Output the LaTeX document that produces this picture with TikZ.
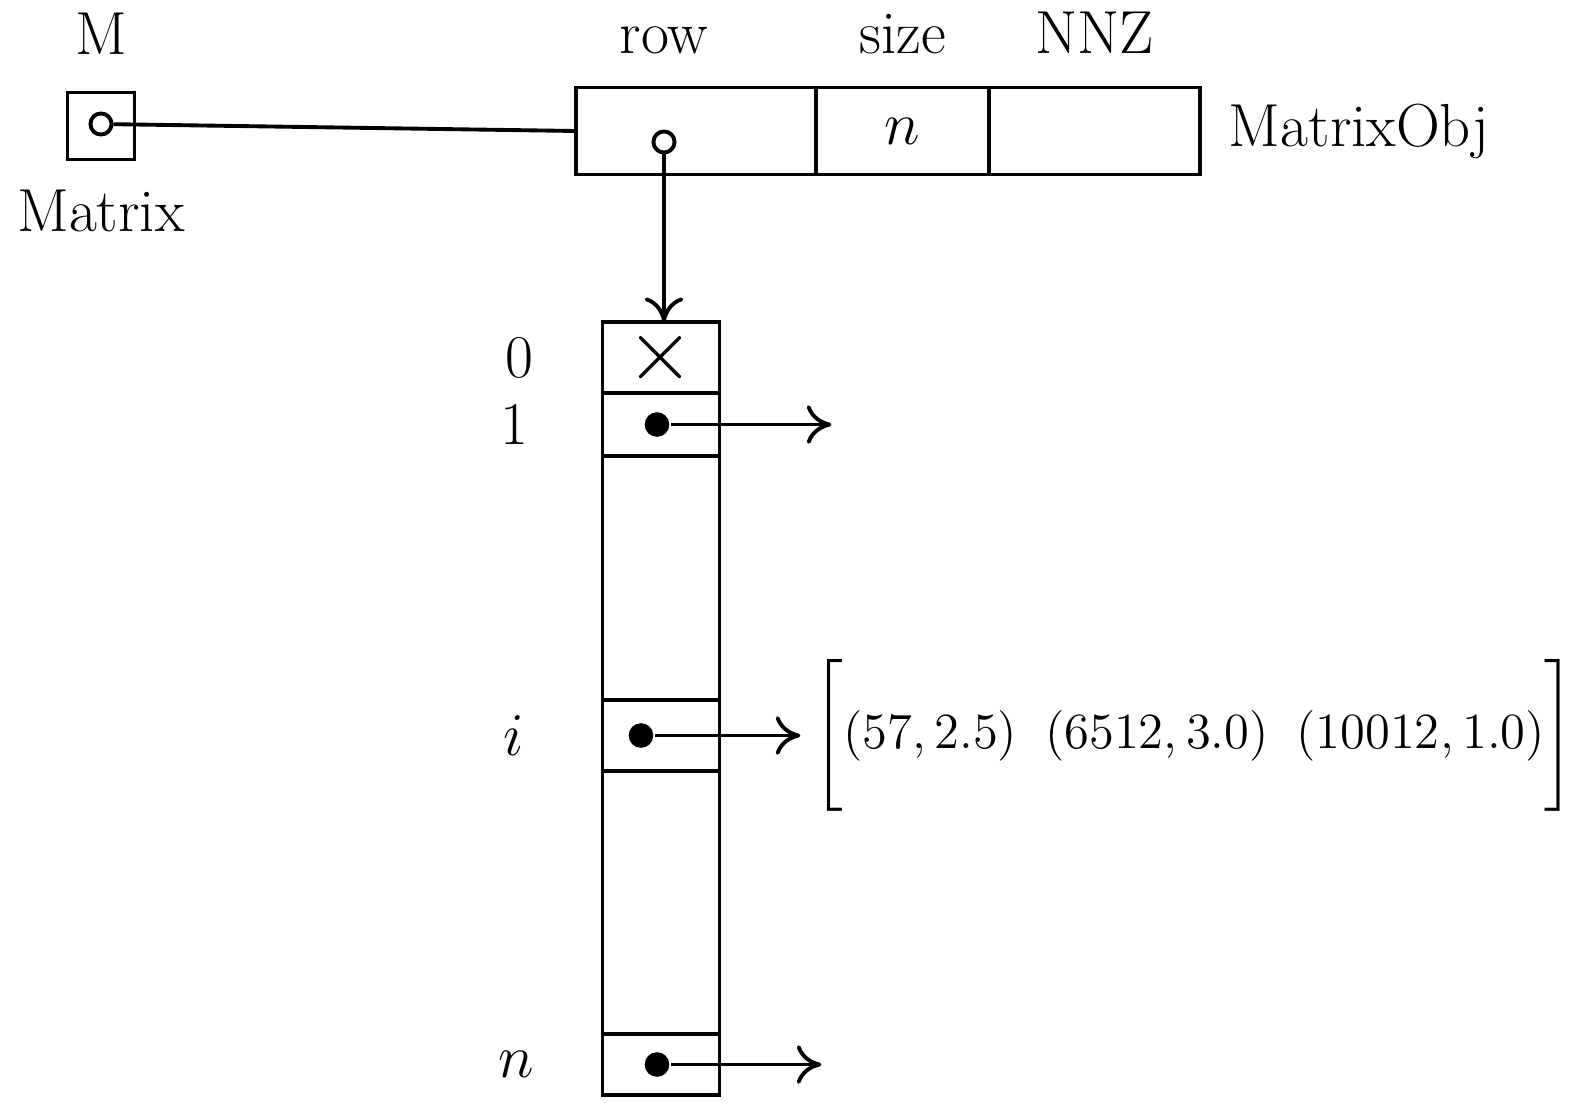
\documentclass[tikz,border=0pt]{standalone}
\usepackage{amsmath}
\usetikzlibrary{arrows.meta,positioning}

\begin{document}
\begin{tikzpicture}[x=0.01cm,y=-0.01cm,
    line width=1.1pt,
    cell/.style={draw,minimum height=0.87cm,inner sep=0pt,outer sep=0pt,font=\LARGE},
    slot/.style={draw,minimum width=1.17cm,inner sep=0pt,outer sep=0pt,font=\LARGE},
    lbl/.style={font=\LARGE},
    ptr/.style={circle,draw,inner sep=0pt,minimum size=6pt},
    ref/.style={circle,fill,inner sep=0pt,minimum size=7pt},
    link/.style={-{To[length=7pt,width=11pt]},line width=1.1pt}]
  \useasboundingbox (0,0) rectangle (1590,1103);
  \node[draw,minimum size=0.67cm] (mbox) at (101,126) {};
  \node[ptr] (mdot) at (101,124) {};
  \node[lbl,above=0.22cm of mbox] (mname) {M};
  \node[lbl,below=0.15cm of mbox] (mtype) {Matrix};

  \node[cell,minimum width=2.4cm] (row) at (696,131) {};
  \node[cell,minimum width=1.73cm,right=0pt of row] (size) {$n$};
  \node[cell,minimum width=2.11cm,right=0pt of size] (nnz) {};
  \node[lbl,right=0.15cm of nnz] (objtype) {MatrixObj};
  \node[lbl,above=0.2cm of row,xshift=-0.32cm] (rowlbl) {row};
  \node[lbl,above=0.2cm of size] (sizelbl) {size};
  \node[lbl,above=0.2cm of nnz] (nnzlbl) {NNZ};
  \node[ptr] (rdot) at (664,142) {};
  \draw (mdot) -- (row.west);

  \node[slot,minimum height=0.71cm] (s0) at (661,357.5) {\Huge$\times$};
  \node[slot,minimum height=0.63cm,below=0pt of s0] (s1) {};
  \node[slot,minimum height=0.71cm] (si) at (661,735.5) {};
  \node[slot,minimum height=0.61cm] (sn) at (661,1064.5) {};
  \draw (s1.south west) -- (si.north west) (s1.south east) -- (si.north east)
        (si.south west) -- (sn.north west) (si.south east) -- (sn.north east);
  \node[lbl,left=0.55cm of s0] (ix0) {0};
  \node[lbl,left=0.6cm of s1] (ix1) {1};
  \node[lbl,left=0.65cm of si] (ixi) {$i$};
  \node[lbl,left=0.55cm of sn] (ixn) {$n$};

  \node[ref] (d1) at ([xshift=-0.04cm]s1.center) {};
  \node[ref] (di) at ([xshift=-0.2cm]si.center) {};
  \node[ref] (dn) at ([xshift=-0.04cm]sn.center) {};
  \coordinate[right=1.6cm of d1] (e1);
  \coordinate[right=1.5cm of dn] (en);
  \node[font=\Large,right=1.45cm of di] (list)
    {$\Biggl[(57, 2.5)\;\;(6512, 3.0)\;\;(10012, 1.0)\Biggr]$};

  \draw[link] (rdot) -- (rdot |- s0.north);
  \draw[link] (d1) -- (e1);
  \draw[link] (di) -- (list);
  \draw[link] (dn) -- (en);
\end{tikzpicture}
\end{document}
